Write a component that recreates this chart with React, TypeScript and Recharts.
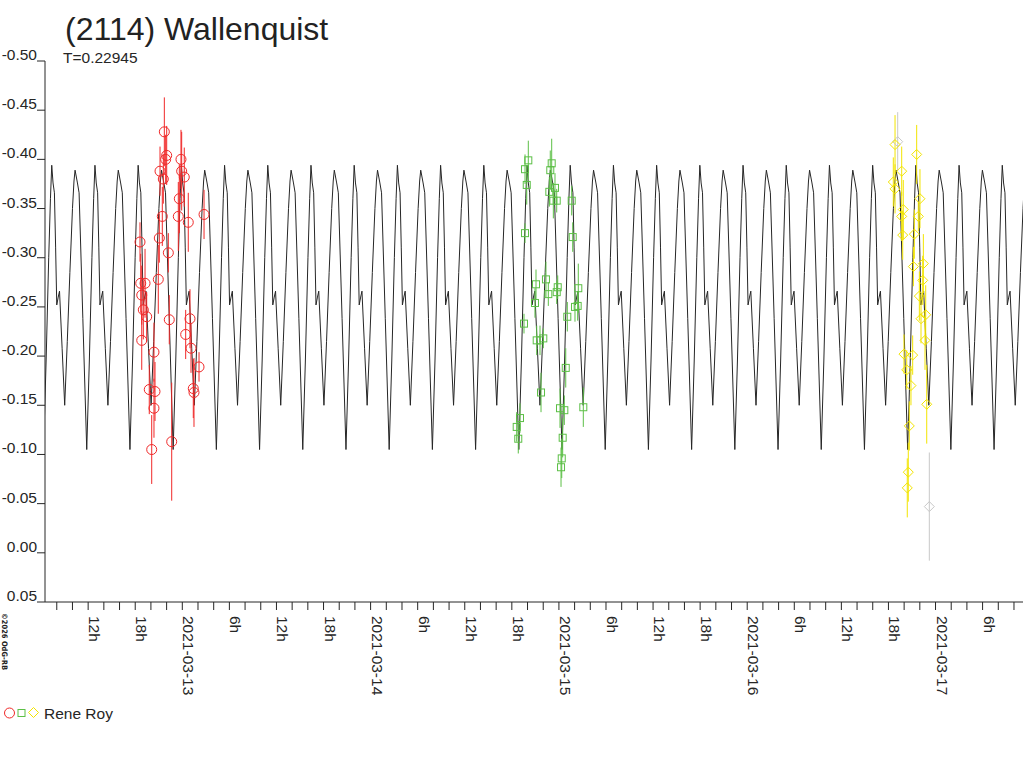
import React from "react";
import { ComposedChart, Line, Scatter, ErrorBar, XAxis, YAxis } from "recharts";

// time axis: hours after 2021-03-13 00:00 UT
const X_DOMAIN: [number, number] = [-17.5, 107.15];
const Y_DOMAIN: [number, number] = [-0.5, 0.05];
const Y_TICKS = [-0.5, -0.45, -0.4, -0.35, -0.3, -0.25, -0.2, -0.15, -0.1, -0.05, 0, 0.05];
const DAY_LABELS = ["2021-03-13", "2021-03-14", "2021-03-15", "2021-03-16", "2021-03-17"];
const X_TICKS = Array.from({ length: 62 }, (_, i) => -16 + i * 2);

// model lightcurve: one rotation (phase, mag), repeated with T
const PERIOD_DAYS = 0.22945;
const EPOCH_H = 16.4; // brighter maximum
const shapePhase = [0, 0.03, 0.062, 0.09, 0.116, 0.15, 0.18, 0.24, 0.3, 0.36, 0.42, 0.48, 0.515, 0.54, 0.595, 0.633, 0.72, 0.81, 0.87, 0.93, 0.97];
const shapeMag = [-0.394, -0.376, -0.366, -0.31, -0.252, -0.26, -0.266, -0.208, -0.15, -0.215, -0.285, -0.35, -0.378, -0.389, -0.376, -0.366, -0.238, -0.105, -0.195, -0.3, -0.36];

// Rene Roy, session 1 (red circles)
const redT = [-2.29, -1.99, -2.12, -0.17, -2.84, -0.08, 0.25, -2.42, -0.38, -2.55, -0.51, 0.76, 2.77, -5.39, -2.93, -1.78, -5.3, -4.75, -3.06, -5.17, -4.97, -4.54, -1.66, 0.98, 0.43, -5.17, 1.11, -3.61, 2.13, -4.21, -3.48, 1.4, 1.49, -3.61, -1.35, -3.9];
const redMag = [-0.428, -0.404, -0.4, -0.4, -0.388, -0.388, -0.382, -0.38, -0.36, -0.342, -0.342, -0.336, -0.344, -0.316, -0.32, -0.305, -0.274, -0.274, -0.278, -0.262, -0.247, -0.24, -0.237, -0.238, -0.222, -0.216, -0.208, -0.204, -0.189, -0.166, -0.164, -0.167, -0.163, -0.147, -0.113, -0.105];
const redErr = [0.035, 0.03, 0.025, 0.03, 0.025, 0.04, 0.03, 0.025, 0.035, 0.03, 0.035, 0.03, 0.025, 0.02, 0.025, 0.02, 0.03, 0.035, 0.035, 0.03, 0.03, 0.025, 0.025, 0.03, 0.025, 0.03, 0.025, 0.03, 0.015, 0.025, 0.03, 0.03, 0.035, 0.03, 0.06, 0.035];

// session 2 (green squares)
const greenT = [44.1, 43.68, 43.9, 47.08, 46.9, 47.5, 46.78, 47.29, 47.72, 49.63, 43.68, 49.76, 45.08, 46.35, 46.65, 47.85, 47.72, 44.95, 50.47, 50.05, 50.39, 43.55, 49.07, 45.17, 45.59, 46.01, 48.87, 45.72, 48.14, 48.69, 51.11, 43.04, 42.62, 42.82, 48.48, 48.36, 48.27];
const greenMag = [-0.399, -0.39, -0.374, -0.396, -0.389, -0.371, -0.367, -0.358, -0.358, -0.358, -0.325, -0.321, -0.273, -0.278, -0.263, -0.27, -0.265, -0.254, -0.269, -0.25, -0.251, -0.233, -0.24, -0.216, -0.216, -0.218, -0.188, -0.163, -0.147, -0.145, -0.148, -0.137, -0.128, -0.116, -0.117, -0.096, -0.087];
const greenErr = [0.02, 0.015, 0.02, 0.025, 0.02, 0.015, 0.015, 0.018, 0.012, 0.015, 0.01, 0.015, 0.015, 0.018, 0.012, 0.012, 0.012, 0.015, 0.025, 0.015, 0.015, 0.01, 0.015, 0.015, 0.015, 0.01, 0.02, 0.02, 0.02, 0.015, 0.02, 0.015, 0.015, 0.015, 0.02, 0.02, 0.02];

// session 3 (yellow diamonds)
const yellowT = [90.84, 93.6, 91.69, 90.62, 90.84, 94.02, 91.89, 93.81, 91.69, 91.82, 93.3, 94.45, 93.18, 94.37, 93.94, 94.75, 94.15, 94.66, 91.98, 93.09, 92.33, 92.87, 94.88, 92.66, 92.53, 92.4];
const yellowMag = [-0.415, -0.405, -0.388, -0.377, -0.37, -0.36, -0.349, -0.342, -0.342, -0.323, -0.324, -0.294, -0.291, -0.277, -0.261, -0.242, -0.238, -0.216, -0.202, -0.201, -0.186, -0.17, -0.151, -0.129, -0.082, -0.066];
const yellowErr = [0.03, 0.03, 0.025, 0.025, 0.025, 0.03, 0.03, 0.015, 0.025, 0.025, 0.025, 0.03, 0.02, 0.025, 0.025, 0.03, 0.025, 0.03, 0.02, 0.02, 0.02, 0.02, 0.04, 0.025, 0.03, 0.03];

// rejected points (grey)
const greyT = [91.18, 95.21];
const greyMag = [-0.418, -0.047];
const greyErr = [0.03, 0.055];

const RED = "#f02828";
const GREEN = "#5cbf46";
const YELLOW = "#f2e400";
const GREY = "#c8c8c8";
const INK = "#262626";
const FONT = "'Liberation Sans', Arial, sans-serif";

const toPoints = (t: number[], mag: number[], err: number[]) =>
  t.map((v, i) => ({ t: v, mag: mag[i], err: err[i] }));

const red = toPoints(redT, redMag, redErr);
const green = toPoints(greenT, greenMag, greenErr);
const yellow = toPoints(yellowT, yellowMag, yellowErr);
const grey = toPoints(greyT, greyMag, greyErr);

const periodH = PERIOD_DAYS * 24;
const curve: { t: number; mag: number }[] = [];
for (let k = -8; k <= 18; k++) {
  shapePhase.forEach((p, i) => {
    const t = EPOCH_H + (k + p) * periodH;
    if (t > X_DOMAIN[0] - 3 && t < X_DOMAIN[1] + 3) curve.push({ t, mag: shapeMag[i] });
  });
}

const xLabel = (h: number) => {
  if (h % 6 !== 0) return "";
  const hod = ((h % 24) + 24) % 24;
  if (hod === 0) return DAY_LABELS[h / 24];
  return `${hod}h`;
};

const XTick = ({ x, y, payload }: any) => {
  const label = xLabel(payload.value);
  if (!label) return null;
  const tx = x + 1;
  const ty = y + 4;
  return (
    <text x={tx} y={ty} transform={`rotate(90, ${tx}, ${ty})`} fontSize={15.5} fontFamily={FONT} fill={INK} textAnchor="start">
      {label}
    </text>
  );
};

const YTick = ({ x, y, payload }: any) => {
  const v = Math.abs(payload.value) < 1e-9 ? 0 : payload.value;
  return (
    <text x={x + 2} y={y - 1} fontSize={15.5} fontFamily={FONT} fill={INK} textAnchor="end">
      {v.toFixed(2)}
    </text>
  );
};

const circleShape = ({ cx, cy }: any) => <circle cx={cx} cy={cy} r={5} fill="none" stroke={RED} strokeWidth={1} />;
const squareShape = ({ cx, cy }: any) => <rect x={cx - 3.5} y={cy - 3.5} width={7} height={7} fill="none" stroke={GREEN} strokeWidth={1} />;
const diamond = (color: string) => ({ cx, cy }: any) => (
  <polygon points={`${cx},${cy - 5} ${cx + 5},${cy} ${cx},${cy + 5} ${cx - 5},${cy}`} fill="none" stroke={color} strokeWidth={1} />
);

export default function App() {
  return (
    <div style={{ position: "absolute", left: 0, top: 0, width: 1024, height: 768, background: "#fff" }}>
      <svg width={1024} height={768} style={{ position: "absolute", left: 0, top: 0 }}>
        <text x={65} y={40} fontSize={32} fontFamily={FONT} fill="#222">(2114) Wallenquist</text>
        <text x={63} y={63} fontSize={15.5} fontFamily={FONT} fill={INK}>T=0.22945</text>
        <text x={2} y={613} transform="rotate(90, 2, 613)" fontSize={7.5} fontWeight="bold" fontFamily="'DejaVu Sans Condensed', 'DejaVu Sans', sans-serif" fill="#222">©2026 OdG-RB</text>
        <circle cx={9.5} cy={713} r={5} fill="none" stroke={RED} />
        <rect x={18} y={709.5} width={7} height={7} fill="none" stroke={GREEN} />
        <polygon points="33.5,707.5 38.5,712.5 33.5,717.5 28.5,712.5" fill="none" stroke={YELLOW} />
        <text x={44} y={719} fontSize={15.5} fontFamily={FONT} fill={INK}>Rene Roy</text>
      </svg>
      <div style={{ position: "absolute", left: 0, top: 0 }}>
        <ComposedChart width={1024} height={768} margin={{ top: 61, right: 1, bottom: 0, left: 0 }}>
          <XAxis
            dataKey="t"
            type="number"
            domain={X_DOMAIN}
            ticks={X_TICKS}
            interval={0}
            allowDataOverflow
            height={166}
            tickSize={8}
            axisLine={{ stroke: INK }}
            tickLine={{ stroke: INK }}
            tick={<XTick />}
          />
          <YAxis
            type="number"
            domain={Y_DOMAIN}
            ticks={Y_TICKS}
            interval={0}
            reversed
            allowDataOverflow
            width={45}
            tickSize={8}
            axisLine={{ stroke: INK }}
            tickLine={{ stroke: INK }}
            tick={<YTick />}
          />
          <Line data={curve} dataKey="mag" type="linear" stroke={INK} strokeWidth={1} dot={false} isAnimationActive={false} />
          <Scatter data={grey} dataKey="mag" shape={diamond(GREY)} isAnimationActive={false}>
            <ErrorBar dataKey="err" direction="y" width={0} stroke={GREY} strokeWidth={1} />
          </Scatter>
          <Scatter data={red} dataKey="mag" shape={circleShape} isAnimationActive={false}>
            <ErrorBar dataKey="err" direction="y" width={0} stroke={RED} strokeWidth={1} />
          </Scatter>
          <Scatter data={green} dataKey="mag" shape={squareShape} isAnimationActive={false}>
            <ErrorBar dataKey="err" direction="y" width={0} stroke={GREEN} strokeWidth={1} />
          </Scatter>
          <Scatter data={yellow} dataKey="mag" shape={diamond(YELLOW)} isAnimationActive={false}>
            <ErrorBar dataKey="err" direction="y" width={0} stroke={YELLOW} strokeWidth={1} />
          </Scatter>
        </ComposedChart>
      </div>
    </div>
  );
}
